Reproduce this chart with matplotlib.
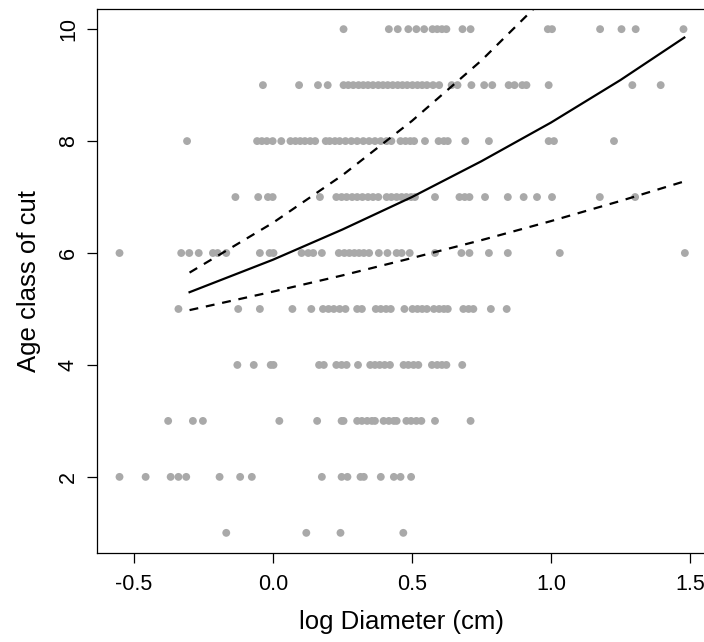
import matplotlib
matplotlib.use("Agg")
import matplotlib.pyplot as plt
import numpy as np

plt.rcParams['font.family'] = ['Liberation Sans', 'DejaVu Sans']

# log diameter of the cuts, one list per age class
age1 = [-0.168, 0.120, 0.243, 0.469]
age2 = [-0.552, -0.458, -0.368, -0.340, -0.312, -0.192, -0.118, -0.076, 0.176, 0.247,
        0.268, 0.315, 0.327, 0.388, 0.435, 0.459, 0.497]
age3 = [-0.377, -0.288, -0.252, 0.023, 0.159, 0.247, 0.254, 0.303, 0.320, 0.339, 0.356,
        0.367, 0.398, 0.417, 0.435, 0.445, 0.480, 0.497, 0.516, 0.534, 0.583, 0.711]
age4 = [-0.128, -0.069, -0.008, 0.002, 0.166, 0.183, 0.228, 0.247, 0.265, 0.306, 0.350,
        0.367, 0.384, 0.402, 0.421, 0.470, 0.487, 0.506, 0.523, 0.572, 0.591, 0.608,
        0.624, 0.681]
age5 = [-0.340, -0.125, -0.047, 0.070, 0.138, 0.180, 0.200, 0.219, 0.240, 0.261, 0.303,
        0.320, 0.370, 0.388, 0.407, 0.424, 0.473, 0.502, 0.520, 0.537, 0.554, 0.579,
        0.598, 0.615, 0.629, 0.685, 0.704, 0.721, 0.784, 0.841]
age6 = [-0.552, -0.330, -0.301, -0.267, -0.216, -0.199, -0.168, -0.047, -0.012, 0.002,
        0.103, 0.127, 0.145, 0.176, 0.237, 0.257, 0.275, 0.293, 0.310, 0.327, 0.346,
        0.381, 0.412, 0.445, 0.463, 0.492, 0.583, 0.678, 0.707, 0.777, 0.845, 1.032, 1.482]
age7 = [-0.135, -0.053, -0.018, -0.001, 0.169, 0.228, 0.247, 0.265, 0.285, 0.303, 0.322,
        0.342, 0.360, 0.379, 0.409, 0.426, 0.445, 0.463, 0.480, 0.497, 0.511, 0.583,
        0.671, 0.690, 0.707, 0.763, 0.845, 0.902, 0.950, 1.004, 1.176, 1.303]
age8 = [-0.309, -0.057, -0.040, -0.022, -0.001, 0.030, 0.063, 0.081, 0.098, 0.115, 0.134,
        0.152, 0.190, 0.204, 0.223, 0.240, 0.261, 0.282, 0.303, 0.325, 0.346, 0.367,
        0.388, 0.409, 0.426, 0.459, 0.477, 0.494, 0.508, 0.547, 0.596, 0.615, 0.629,
        0.692, 0.777, 0.992, 1.011, 1.227]
age9 = [-0.036, 0.094, 0.162, 0.197, 0.254, 0.271, 0.289, 0.308, 0.325, 0.342, 0.360,
        0.379, 0.396, 0.413, 0.431, 0.449, 0.466, 0.483, 0.502, 0.520, 0.537, 0.554,
        0.576, 0.598, 0.643, 0.664, 0.714, 0.760, 0.789, 0.848, 0.869, 0.897, 0.912,
        0.992, 1.293, 1.395]
age10 = [0.254, 0.417, 0.449, 0.487, 0.516, 0.544, 0.574, 0.591, 0.608, 0.624, 0.682,
         0.711, 0.989, 1.004, 1.177, 1.254, 1.305, 1.477]

# fitted curve and bounds
fitX = [-0.30, 0.00, 0.25, 0.50, 0.75, 1.00, 1.25, 1.48]
fitMid = [5.30, 5.88, 6.42, 7.00, 7.64, 8.33, 9.09, 9.85]
upX = [-0.30, 0.00, 0.25, 0.50, 0.75, 1.00]
fitUp = [5.65, 6.54, 7.39, 8.36, 9.44, 10.67]
fitLow = [4.98, 5.31, 5.60, 5.91, 6.23, 6.57, 6.93, 7.28]

ageRows = [age1, age2, age3, age4, age5, age6, age7, age8, age9, age10]

fig = plt.figure(figsize=(7.04, 6.42), dpi=100)
ax = fig.add_axes([97 / 704, 89 / 642, 609 / 704, 544 / 642])

for i, row in enumerate(ageRows):
    ax.scatter(row, np.full(len(row), i + 1), s=32, color='#A9A9A9',
               edgecolors='none', zorder=2)

ax.plot(fitX, fitMid, color='black', lw=1.6, zorder=3)
ax.plot(upX, fitUp, color='black', lw=1.6, linestyle=(0, (4, 3.5)), zorder=3)
ax.plot(fitX, fitLow, color='black', lw=1.6, linestyle=(0, (4, 3.5)), zorder=3)

ax.set_xlim(-0.633, 1.558)
ax.set_ylim(0.64, 10.36)
ax.set_xticks([-0.5, 0.0, 0.5, 1.0, 1.5])
ax.set_xticklabels(['-0.5', '0.0', '0.5', '1.0', '1.5'])
ax.set_yticks([2, 4, 6, 8, 10])
ax.tick_params(axis='both', direction='out', length=7, width=0.9, labelsize=15.5)
ax.tick_params(axis='x', pad=8)
ax.tick_params(axis='y', pad=6)
for lab in ax.get_yticklabels():
    lab.set_rotation(90)
    lab.set_va('center')
for sp in ax.spines.values():
    sp.set_linewidth(0.9)

ax.set_xlabel('log Diameter (cm)', fontsize=18.5, labelpad=11)
ax.set_ylabel('Age class of cut', fontsize=18.5, labelpad=12)

fig.savefig('out.png', dpi=100)
